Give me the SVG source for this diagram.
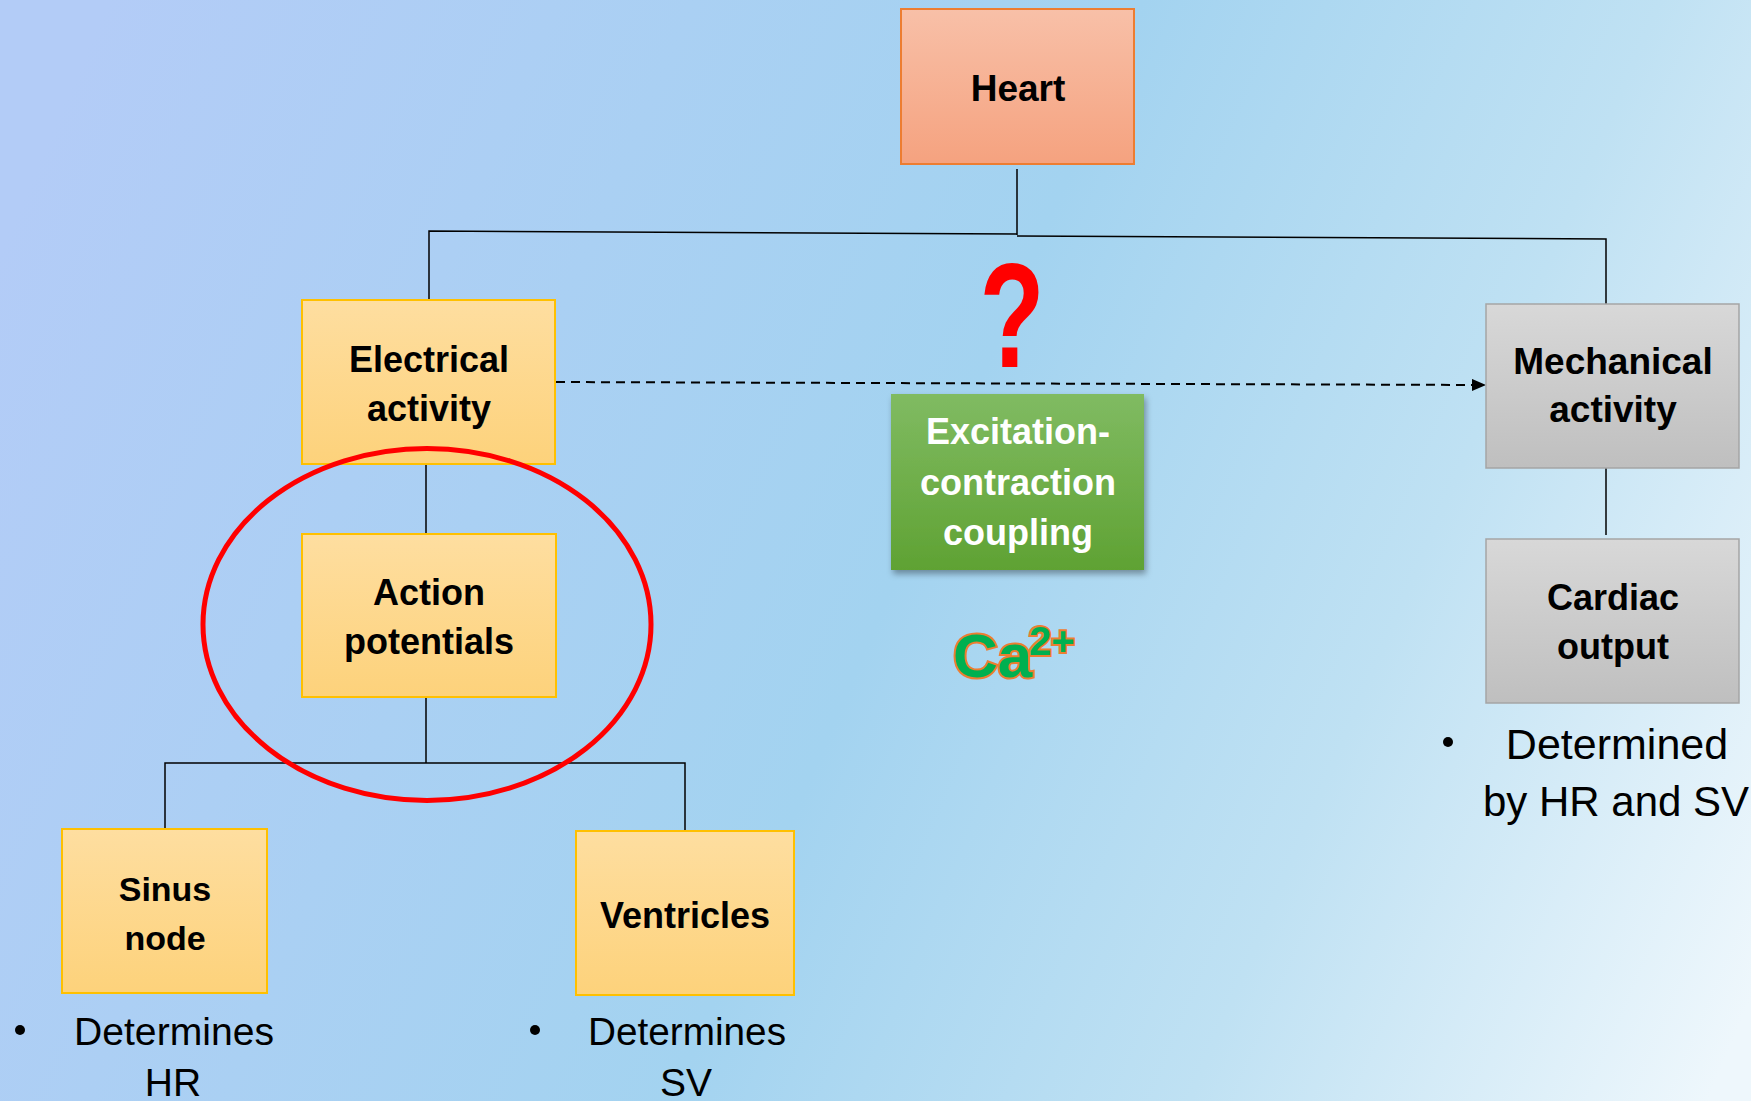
<svg xmlns="http://www.w3.org/2000/svg" width="1751" height="1101" viewBox="0 0 1751 1101">
<defs>
<linearGradient id="bg" gradientUnits="userSpaceOnUse" x1="0" y1="250" x2="1751" y2="1000">
<stop offset="0" stop-color="#b3ccf7"/>
<stop offset="0.5" stop-color="#a3d3f0"/>
<stop offset="0.75" stop-color="#bfe1f3"/>
<stop offset="1" stop-color="#eef7fc"/>
</linearGradient>
<linearGradient id="gHeart" x1="0" y1="0" x2="0" y2="1">
<stop offset="0" stop-color="#f8c0a8"/>
<stop offset="1" stop-color="#f5a27f"/>
</linearGradient>
<linearGradient id="gYel" x1="0" y1="0" x2="0" y2="1">
<stop offset="0" stop-color="#fedea0"/>
<stop offset="1" stop-color="#fdd27b"/>
</linearGradient>
<linearGradient id="gGray" x1="0" y1="0" x2="0" y2="1">
<stop offset="0" stop-color="#d8d8d8"/>
<stop offset="1" stop-color="#bfbfbf"/>
</linearGradient>
<linearGradient id="gGreen" x1="0" y1="0" x2="0" y2="1">
<stop offset="0" stop-color="#80bb62"/>
<stop offset="1" stop-color="#5fa233"/>
</linearGradient>
<filter id="shadow" x="-10%" y="-10%" width="125%" height="130%">
<feDropShadow dx="2" dy="4" stdDeviation="3" flood-color="#000" flood-opacity="0.35"/>
</filter>
<marker id="arrow" markerWidth="14" markerHeight="12" refX="13" refY="6" orient="auto" markerUnits="userSpaceOnUse">
<path d="M0,0 L14,6 L0,12 Z" fill="#000"/>
</marker>
<style>
.lbl{font-family:"Liberation Sans",Arial,sans-serif;font-weight:bold;font-size:36px;fill:#000;text-anchor:middle}
.wht{fill:#fff}
.note{font-family:"Liberation Sans",Arial,sans-serif;font-size:39px;fill:#000}
.conn{stroke:#000;stroke-width:1.5;fill:none}
.yel{fill:url(#gYel);stroke:#ffc000;stroke-width:2}
.gray{fill:url(#gGray);stroke:#a5a5a5;stroke-width:1.5}
</style>
</defs>
<rect x="0" y="0" width="1751" height="1101" fill="url(#bg)"/>

<g id="connectors">
<path class="conn" d="M1017,169 L1017,235 M429,299 L429,231 L1017,234 M1017,236 L1606,239 L1606,304"/>
<path class="conn" d="M426,465 L426,534"/>
<path class="conn" d="M426,697 L426,763 M165,829 L165,763 L685,763 L685,831"/>
<path class="conn" d="M1606,468 L1606,535"/>
<path d="M556,382 L1485,385" stroke="#000" stroke-width="2" stroke-dasharray="9,6" fill="none" marker-end="url(#arrow)"/>
</g>

<g id="node-heart">
<rect x="901" y="9" width="233" height="155" fill="url(#gHeart)" stroke="#ed7d31" stroke-width="2"/>
<text class="lbl" x="1018" y="101" style="font-size:37px">Heart</text>
</g>

<g id="node-electrical">
<rect class="yel" x="302" y="300" width="253" height="164"/>
<text class="lbl" x="429" y="372">Electrical</text>
<text class="lbl" x="429" y="421">activity</text>
</g>

<g id="node-action">
<rect class="yel" x="302" y="534" width="254" height="163"/>
<text class="lbl" x="429" y="605">Action</text>
<text class="lbl" x="429" y="654">potentials</text>
</g>

<g id="node-sinus">
<rect class="yel" x="62" y="829" width="205" height="164"/>
<text class="lbl" x="165" y="901" style="font-size:34px">Sinus</text>
<text class="lbl" x="165" y="950" style="font-size:34px">node</text>
<circle cx="20" cy="1030" r="5" fill="#000"/>
<text class="note" x="74" y="1045" textLength="200" lengthAdjust="spacingAndGlyphs">Determines</text>
<text class="note" x="173" y="1096" text-anchor="middle">HR</text>
</g>

<g id="node-ventricles">
<rect class="yel" x="576" y="831" width="218" height="164"/>
<text class="lbl" x="685" y="928">Ventricles</text>
<circle cx="535" cy="1030" r="5" fill="#000"/>
<text class="note" x="588" y="1045" textLength="198" lengthAdjust="spacingAndGlyphs">Determines</text>
<text class="note" x="686" y="1096" text-anchor="middle">SV</text>
</g>

<g id="node-ecc">
<rect x="891" y="394" width="253" height="176" fill="url(#gGreen)" filter="url(#shadow)"/>
<text class="lbl wht" x="1018" y="444">Excitation-</text>
<text class="lbl wht" x="1018" y="495">contraction</text>
<text class="lbl wht" x="1018" y="545">coupling</text>
</g>

<g id="question">
<text transform="translate(1012,367) scale(0.72,1)" x="0" y="0" text-anchor="middle" style="font-family:'Liberation Sans',Arial,sans-serif;font-weight:bold;font-size:148px;fill:#ff0000">?</text>
</g>

<g id="calcium">
<text x="953" y="677" style="font-family:'Liberation Sans',Arial,sans-serif;font-weight:bold;font-size:62px;fill:#00b050;stroke:#ed7d31;stroke-width:4;paint-order:stroke">Ca<tspan x="1029" y="655" style="font-size:40px">2+</tspan></text>
</g>

<g id="node-mechanical">
<rect class="gray" x="1486" y="304" width="253" height="164"/>
<text class="lbl" x="1613" y="374" style="font-size:37px">Mechanical</text>
<text class="lbl" x="1613" y="422" style="font-size:37px">activity</text>
</g>

<g id="node-cardiac">
<rect class="gray" x="1486" y="539" width="253" height="164"/>
<text class="lbl" x="1613" y="610">Cardiac</text>
<text class="lbl" x="1613" y="659">output</text>
<circle cx="1448" cy="742" r="5" fill="#000"/>
<text class="note" x="1617" y="759" text-anchor="middle" style="font-size:43px">Determined</text>
<text class="note" x="1616" y="816" text-anchor="middle" style="font-size:42px">by HR and SV</text>
</g>

<g id="highlight">
<ellipse cx="427" cy="624.5" rx="224" ry="176" fill="none" stroke="#ff0000" stroke-width="5"/>
</g>
</svg>
